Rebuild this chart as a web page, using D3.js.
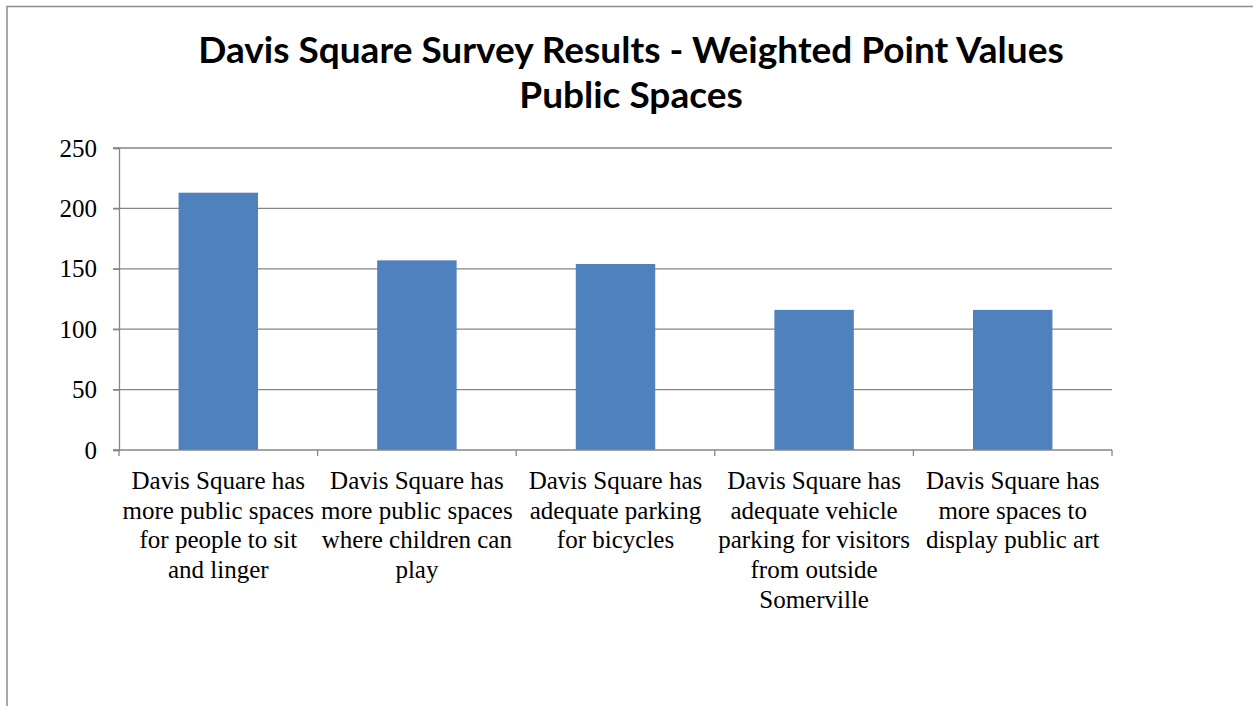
<!DOCTYPE html>
<html>
<head>
<meta charset="utf-8">
<script src="https://cdn.jsdelivr.net/npm/d3@7"></script>
<style>
  body { margin: 0; background: #fff; }
  svg { display: block; }
</style>
</head>
<body>
<div id="chart"></div>
<script>
// chart data
var titleLines = ["Davis Square Survey Results - Weighted Point Values", "Public Spaces"];
var categories = [
    ["Davis Square has", "more public spaces", "for people to sit", "and linger"],
    ["Davis Square has", "more public spaces", "where children can", "play"],
    ["Davis Square has", "adequate parking", "for bicycles"],
    ["Davis Square has", "adequate vehicle", "parking for visitors", "from outside", "Somerville"],
    ["Davis Square has", "more spaces to", "display public art"]
];
var values = [213, 157, 154, 116, 116];
var yTicks = [0, 50, 100, 150, 200, 250];

// set the dimensions and margins of the graph
var W = 1253, H = 706;
var margin = {top: 148, right: 141, bottom: 256, left: 119},
    width = W - margin.left - margin.right,
    height = H - margin.top - margin.bottom;

var svg = d3.select("#chart")
    .append("svg")
        .attr("width", W)
        .attr("height", H);

// outer frame of the chart area
svg.append("rect")
    .attr("x", 7).attr("y", 6.5)
    .attr("width", W + 20).attr("height", H + 20)
    .attr("fill", "none")
    .attr("stroke", "#8c8c8c")
    .attr("stroke-width", 1.5);

// title
var title = svg.append("text")
    .attr("text-anchor", "middle")
    .style("font-family", "Lato, 'Open Sans', sans-serif")
    .style("font-weight", "bold")
    .style("font-size", "37px")
    .attr("fill", "#000");
titleLines.forEach(function(t, i) {
    title.append("tspan").attr("x", 631).attr("y", 63 + i * 45).text(t);
});

var g = svg.append("g")
    .attr("transform", "translate(" + margin.left + "," + margin.top + ")");

// set the ranges
var x = d3.scaleBand()
    .domain(d3.range(categories.length))
    .range([0, width])
    .paddingInner(0.6)
    .paddingOuter(0.3);
var y = d3.scaleLinear().domain([0, 250]).range([height, 0]);

// gridlines
g.append("g")
    .selectAll("line")
    .data(yTicks.filter(function(d) { return d > 0; }))
    .enter().append("line")
        .attr("x1", -6).attr("x2", width)
        .attr("y1", function(d) { return y(d); })
        .attr("y2", function(d) { return y(d); })
        .attr("stroke", "#868686")
        .attr("stroke-width", 1.3);

// bars
g.selectAll(".bar")
    .data(values)
    .enter().append("rect")
        .attr("class", "bar")
        .attr("x", function(d, i) { return x(i); })
        .attr("width", x.bandwidth())
        .attr("y", function(d) { return y(d); })
        .attr("height", function(d) { return height - y(d); })
        .attr("fill", "#4F81BD");

// y axis
var yAxis = g.append("g")
    .call(d3.axisLeft(y).tickValues(yTicks).tickSize(6).tickPadding(16));
yAxis.select(".domain").attr("stroke", "#868686").attr("stroke-width", 1.3);
yAxis.selectAll(".tick line").attr("stroke", "#868686").attr("stroke-width", 1.3);
yAxis.selectAll("text")
    .style("font-family", "'Liberation Serif', serif")
    .style("font-size", "25px")
    .attr("fill", "#000");

// x axis: ticks at category boundaries
var xAxis = g.append("g").attr("transform", "translate(0," + height + ")");
xAxis.append("line")
    .attr("x1", -6).attr("x2", width)
    .attr("stroke", "#868686").attr("stroke-width", 1.3);
var bounds = d3.range(categories.length + 1).map(function(i) { return i * x.step(); });
xAxis.selectAll(".bound")
    .data(bounds)
    .enter().append("line")
        .attr("class", "bound")
        .attr("x1", function(d) { return d; })
        .attr("x2", function(d) { return d; })
        .attr("y1", 0).attr("y2", 6)
        .attr("stroke", "#868686").attr("stroke-width", 1.3);

// category labels
var labels = xAxis.selectAll(".cat")
    .data(categories)
    .enter().append("text")
        .attr("class", "cat")
        .attr("text-anchor", "middle")
        .style("font-family", "'Liberation Serif', serif")
        .style("font-size", "25px")
        .attr("fill", "#000");
labels.each(function(lines, i) {
    var cx = x(i) + x.bandwidth() / 2;
    d3.select(this).selectAll("tspan")
        .data(lines)
        .enter().append("tspan")
            .attr("x", cx)
            .attr("y", function(d, j) { return 39 + j * 29.7; })
            .text(function(d) { return d; });
});
</script>
</body>
</html>
